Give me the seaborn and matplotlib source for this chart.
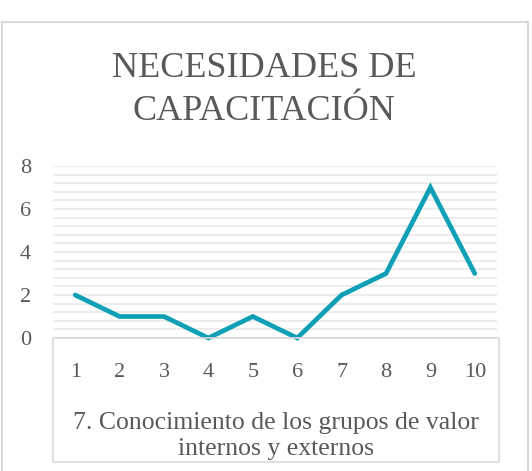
"""Line chart: training needs, item 7."""
import matplotlib
matplotlib.use("Agg")
import matplotlib.pyplot as plt
from matplotlib.patches import Rectangle
from matplotlib.ticker import MultipleLocator
import pandas as pd
import seaborn as sns

sns.set_style("white")
plt.rcParams["font.family"] = ["Liberation Serif", "DejaVu Serif"]

title = "NECESIDADES DE\nCAPACITACIÓN"
x_label = "7. Conocimiento de los grupos de valor\ninternos y externos"
categories = [1, 2, 3, 4, 5, 6, 7, 8, 9, 10]
values = [2, 1, 1, 0, 1, 0, 2, 3, 7, 3]
y_ticks = [0, 2, 4, 6, 8]

text_color = "#595959"
line_color = "#0FA0B7"
grid_color = "#e9e9e9"
frame_color = "#d9d9d9"

df = pd.DataFrame({"item": categories, "count": values})

fig = plt.figure(figsize=(5.32, 4.71), dpi=100)
W, H = 532, 471
ax = fig.add_axes([53 / W, 1 - 338 / H, 444 / W, 172 / H])

sns.lineplot(data=df, x="item", y="count", ax=ax, color=line_color,
             linewidth=3.4, solid_joinstyle="miter", clip_on=False)

ax.set_xlim(0.5, 10.5)
ax.set_ylim(0, 8)
ax.set_xticks(categories)
ax.set_yticks(y_ticks)
ax.yaxis.set_minor_locator(MultipleLocator(0.4))
ax.grid(True, which="both", axis="y", color=grid_color, linewidth=1.2)
ax.grid(False, axis="x")
for s in ax.spines.values():
    s.set_visible(False)
ax.tick_params(axis="both", length=0, labelsize=16, colors=text_color)
ax.tick_params(axis="x", pad=18)
ax.tick_params(axis="y", pad=16)
ax.set_xlabel("")
ax.set_ylabel("")

# category axis box and outer chart frame
fig.patches.append(Rectangle((53 / W, 1 - 462 / H), 446 / W, 124 / H,
                             transform=fig.transFigure, fill=False,
                             edgecolor=frame_color, linewidth=1.2))
fig.patches.append(Rectangle((2 / W, -0.05), 526 / W, 1.05 - 22 / H,
                             transform=fig.transFigure, fill=False,
                             edgecolor=frame_color, linewidth=1.5))

fig.text(264 / W, 1 - 90 / H, title, ha="center", va="center",
         fontsize=26, color=text_color, linespacing=1.4)
fig.text(276 / W, 1 - 436 / H, x_label, ha="center", va="center",
         fontsize=18.5, color=text_color, linespacing=1.2)

fig.savefig("out.png", dpi=100)
